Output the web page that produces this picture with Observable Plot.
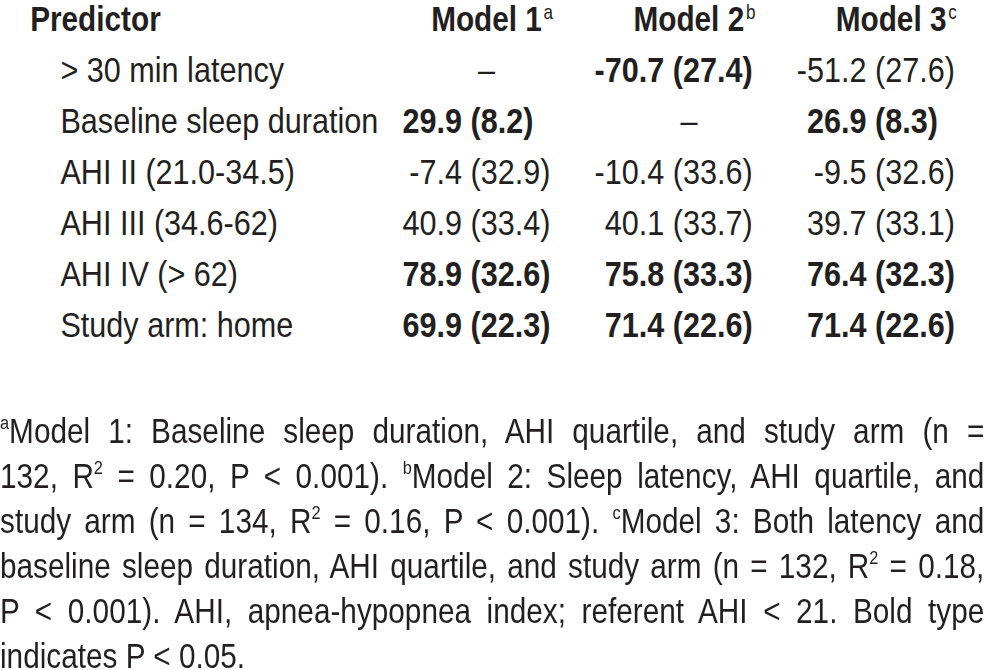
<!DOCTYPE html>
<html><head><meta charset="utf-8">
<script src="https://cdn.jsdelivr.net/npm/d3@7"></script>
<script src="https://cdn.jsdelivr.net/npm/@observablehq/plot@0.6"></script>
<style>
html,body{margin:0;background:#fff;overflow:hidden;width:984px;height:670px;}
#wrap{width:1158px;height:670px;overflow:hidden;font-family:"Liberation Sans",Arial,sans-serif;color:#231f20;transform:scaleX(0.85);transform-origin:0 0;}
#wrap svg{display:block;}
#notes{margin-top:38px;font-size:35px;line-height:45px;}
#notes div{text-align:justify;text-align-last:justify;}
#notes div.last{text-align-last:left;}
#notes sup{font-size:55%;line-height:0;vertical-align:0.75em;}
</style></head>
<body><div id="wrap"></div>
<script>
const headerLabel = "Predictor";
const predictors = ["> 30 min latency", "Baseline sleep duration", "AHI II (21.0-34.5)", "AHI III (34.6-62)", "AHI IV (> 62)", "Study arm: home"];
const models = ["Model 1", "Model 2", "Model 3"];
const modelMarks = ["a", "b", "c"];
const model1Values = ["–", "29.9 (8.2)", "-7.4 (32.9)", "40.9 (33.4)", "78.9 (32.6)", "69.9 (22.3)"];
const model2Values = ["-70.7 (27.4)", "–", "-10.4 (33.6)", "40.1 (33.7)", "75.8 (33.3)", "71.4 (22.6)"];
const model3Values = ["-51.2 (27.6)", "26.9 (8.3)", "-9.5 (32.6)", "39.7 (33.1)", "76.4 (32.3)", "71.4 (22.6)"];
const model1Bold = [false, true, false, false, true, true];
const model2Bold = [true, false, false, false, true, true];
const model3Bold = [false, true, false, false, true, true];
const footnoteLines = [
  "^aModel 1: Baseline sleep duration, AHI quartile, and study arm (n =",
  "132, R^2 = 0.20, P < 0.001). ^bModel 2: Sleep latency, AHI quartile, and",
  "study arm (n = 134, R^2 = 0.16, P < 0.001). ^cModel 3: Both latency and",
  "baseline sleep duration, AHI quartile, and study arm (n = 132, R^2 = 0.18,",
  "P < 0.001). AHI, apnea-hypopnea index; referent AHI < 21. Bold type",
  "indicates P < 0.05."
];

const valueSets = [model1Values, model2Values, model3Values];
const boldSets = [model1Bold, model2Bold, model3Bold];
const cells = [];
predictors.forEach((p, i) => {
  valueSets.forEach((vals, j) => {
    const v = vals[i];
    const k = v.indexOf(".");
    cells.push({predictor: p, model: models[j], value: v, bold: boldSets[j][i],
      dash: k < 0, left: k < 0 ? "" : v.slice(0, k), right: k < 0 ? "" : v.slice(k)});
  });
});
const heads = models.map((m, j) => ({model: m, mark: modelMarks[j]}));
const num = cells.filter(d => !d.dash);
const dashes = cells.filter(d => d.dash);
const FS = 36;
const INK = "#231f20";

const chart = Plot.plot({
  width: 1158, height: 370,
  margin: 0,
  style: {fontFamily: '"Liberation Sans", Arial, sans-serif', color: INK, background: "#fff"},
  x: {type: "point", domain: models, range: [512, 989], padding: 0, axis: null},
  y: {type: "point", domain: [headerLabel, ...predictors], range: [28, 338], padding: 0, axis: null},
  marks: [
    Plot.text([headerLabel], {y: d => d, text: d => d, frameAnchor: "left", dx: 35, textAnchor: "start", lineAnchor: "bottom", fontSize: 35, fontWeight: "bold", fill: INK}),
    Plot.text(heads, {x: "model", y: () => headerLabel, text: "model", textAnchor: "end", lineAnchor: "bottom", dx: 124, fontSize: 35, fontWeight: "bold", fill: INK}),
    Plot.text(heads, {x: "model", y: () => headerLabel, text: "mark", textAnchor: "start", lineAnchor: "bottom", dx: 126, dy: -12, fontSize: 20, fill: INK}),
    Plot.text(predictors, {y: d => d, text: d => d, frameAnchor: "left", dx: 70.6, textAnchor: "start", lineAnchor: "bottom", fontSize: FS, fill: INK}),
    Plot.text(num.filter(d => !d.bold), {x: "model", y: "predictor", text: "left", textAnchor: "end", lineAnchor: "bottom", fontSize: FS, fill: INK}),
    Plot.text(num.filter(d => !d.bold), {x: "model", y: "predictor", text: "right", textAnchor: "start", lineAnchor: "bottom", fontSize: FS, fill: INK}),
    Plot.text(num.filter(d => d.bold), {x: "model", y: "predictor", text: "left", textAnchor: "end", lineAnchor: "bottom", fontSize: FS, fontWeight: "bold", fill: INK}),
    Plot.text(num.filter(d => d.bold), {x: "model", y: "predictor", text: "right", textAnchor: "start", lineAnchor: "bottom", fontSize: FS, fontWeight: "bold", fill: INK}),
    Plot.text(dashes, {x: "model", y: "predictor", text: "value", textAnchor: "middle", lineAnchor: "bottom", dx: 59, fontSize: FS, fill: INK})
  ]
});
const wrap = document.getElementById("wrap");
wrap.appendChild(chart);

const notes = document.createElement("div");
notes.id = "notes";
footnoteLines.forEach((line, i) => {
  const div = document.createElement("div");
  if (i === footnoteLines.length - 1) div.className = "last";
  line.split(/(\^\w)/).forEach(part => {
    if (!part) return;
    if (part[0] === "^") {
      const s = document.createElement("sup");
      s.textContent = part.slice(1);
      div.appendChild(s);
    } else {
      div.appendChild(document.createTextNode(part));
    }
  });
  notes.appendChild(div);
});
wrap.appendChild(notes);
</script>
</body></html>
